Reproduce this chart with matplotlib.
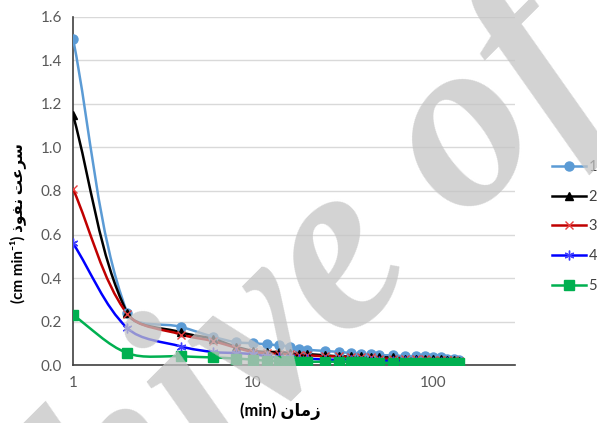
import numpy as np
import matplotlib
matplotlib.use("Agg")
import matplotlib.pyplot as plt
from matplotlib.path import Path
from matplotlib.patches import PathPatch
from matplotlib.lines import Line2D

# time (min) and infiltration rate (cm/min) for the five series
t = [1, 2, 4, 6, 8, 10, 12, 14, 16, 18, 20, 25, 30, 35, 40, 45, 50, 60, 70, 80, 90, 100, 110, 120, 130, 140]
s1 = [1.50, 0.24, 0.175, 0.13, 0.105, 0.10, 0.095, 0.09, 0.085, 0.075, 0.07, 0.065, 0.06, 0.055, 0.05, 0.05,
      0.045, 0.045, 0.04, 0.04, 0.04, 0.035, 0.035, 0.03, 0.03, 0.025]
s2 = [1.15, 0.24, 0.15, 0.12, 0.085, 0.065, 0.06, 0.06, 0.055, 0.05, 0.05, 0.045, 0.04, 0.04, 0.04, 0.035,
      0.035, 0.035, 0.03, 0.03, 0.03, 0.03, 0.03, 0.025, 0.025, 0.02]
s3 = [0.81, 0.235, 0.14, 0.11, 0.08, 0.06, 0.055, 0.05, 0.05, 0.045, 0.045, 0.04, 0.04, 0.035, 0.035, 0.035,
      0.03, 0.03, 0.03, 0.03, 0.03, 0.025, 0.025, 0.025, 0.025, 0.02]
s4 = [0.56, 0.17, 0.085, 0.06, 0.055, 0.05, 0.04, 0.035, 0.035, 0.03, 0.03, 0.025, 0.025, 0.025, 0.02, 0.02,
      0.02, 0.02, 0.02, 0.02, 0.015, 0.015, 0.015, 0.015, 0.01, 0.01]
s5 = [0.23, 0.055, 0.04, 0.035, 0.03, 0.025, 0.02, 0.02, 0.02, 0.015, 0.015, 0.015, 0.015, 0.015, 0.015, 0.01,
      0.01, 0.01, 0.01, 0.01, 0.01, 0.01, 0.01, 0.01, 0.01, 0.01]
labels = ["1", "2", "3", "4", "5"]
yticks = [0.0, 0.2, 0.4, 0.6, 0.8, 1.0, 1.2, 1.4, 1.6]
xticks = [1, 10, 100]

styles = [
    dict(color="#5B9BD5", marker="o", ms=6.5, mfc="#5B9BD5", mec="#5B9BD5", mew=1),
    dict(color="black", marker="^", ms=6, mfc="black", mec="black", mew=1),
    dict(color="#C00000", marker="x", ms=6, mfc="none", mec="#E84040", mew=1),
    dict(color="#0000FF", marker=(6, 2, 0), ms=7, mfc="none", mec="#4040FF", mew=1),
    dict(color="#00B050", marker="s", ms=6.5, mfc="#00B050", mec="#00B050", mew=1),
]


def smooth_path(x, y):
    # Excel-like smoothed line: cubic bezier through the points (log x)
    sx, sy = 180.0, 217.5
    p = np.column_stack([np.log10(x) * sx, np.array(y) * sy])
    n = len(p)
    verts = [p[0]]
    codes = [Path.MOVETO]
    for i in range(n - 1):
        p0, p1, p2, p3 = p[max(i - 1, 0)], p[i], p[i + 1], p[min(i + 2, n - 1)]
        d01 = np.hypot(*(p1 - p0))
        d12 = np.hypot(*(p2 - p1))
        d23 = np.hypot(*(p3 - p2))
        t1 = (p2 - p0) * d12 / (d01 + d12) if d01 + d12 > 0 else p2 - p1
        t2 = (p3 - p1) * d12 / (d12 + d23) if d12 + d23 > 0 else p2 - p1
        verts += [p1 + t1 / 3, p2 - t2 / 3, p2]
        codes += [Path.CURVE4] * 3
    v = np.array(verts)
    v = np.column_stack([10 ** (v[:, 0] / sx), v[:, 1] / sy])
    return Path(v, codes)


fig = plt.figure(figsize=(5.97, 4.23), dpi=100)
ax = fig.add_axes([0.1223, 0.137, 0.7403, 0.823])
ax.set_xscale("log")
ax.set_xlim(1, 285)
ax.set_ylim(0, 1.6)

for s, st in zip([s1, s2, s3, s4, s5], styles):
    ax.add_patch(PathPatch(smooth_path(t, s), fill=False, edgecolor=st["color"], lw=1.8,
                           capstyle="round", joinstyle="round", zorder=3))
    ax.plot(t, s, ls="none", marker=st["marker"], ms=st["ms"], mfc=st["mfc"],
            mec=st["mec"], mew=st["mew"], zorder=4)

ax.set_yticks(yticks)
ax.set_yticklabels([f"{v:.1f}" for v in yticks])
ax.set_xticks(xticks)
ax.set_xticklabels([str(v) for v in xticks])
ax.xaxis.set_minor_locator(matplotlib.ticker.NullLocator())
ax.tick_params(length=0, labelsize=11, labelcolor="#595959", pad=8)
for lab in ax.get_xticklabels() + ax.get_yticklabels():
    lab.set_family(["Lato", "DejaVu Sans"])
ax.grid(axis="y", color="#D9D9D9", lw=1)
ax.set_axisbelow(True)
for side in ["top", "right"]:
    ax.spines[side].set_visible(False)
ax.spines["left"].set_color("#404040")
ax.spines["bottom"].set_color("#404040")
ax.spines["left"].set_linewidth(1.2)
ax.spines["bottom"].set_linewidth(1.2)

# labels (Arabic glyphs given in presentation forms, visual order)
fig.text(0.469, 0.028, "(min) \uFEE5\uFE8E\uFEE3\uFEAF", ha="center", va="center", fontsize=12,
         fontweight="bold", color="black", family=["Lato", "DejaVu Sans"])
fig.text(0.03, 0.472, "(cm min\u207B\u00B9) \uFEAB\uFEEE\uFED4\uFEE7 \uFE96\uFECB\uFEAE\uFEB3",
         rotation=90, ha="center", va="center", fontsize=11, fontweight="bold", color="black",
         family=["Lato", "DejaVu Sans"])

handles = [Line2D([], [], color=st["color"], lw=1.8, marker=st["marker"], ms=st["ms"],
                  mfc=st["mfc"], mec=st["mec"], mew=st["mew"]) for st in styles]
leg = fig.legend(handles, labels, loc="upper left", bbox_to_anchor=(0.915, 0.635), frameon=False,
                 handlelength=2.3, handletextpad=0.2, labelspacing=1.07, borderaxespad=0,
                 prop={"family": ["Lato", "DejaVu Sans"], "size": 10.5})
for txt in leg.get_texts():
    txt.set_color("#404040")

# watermark
fig.text(0.608, 0.40, "Archive of SID", rotation=45, ha="center", va="center", rotation_mode="anchor",
         fontsize=178, style="italic", fontweight="bold", family="Liberation Serif", color="#C4C4C4",
         alpha=0.75, zorder=10)

fig.savefig("out.png", dpi=100)
